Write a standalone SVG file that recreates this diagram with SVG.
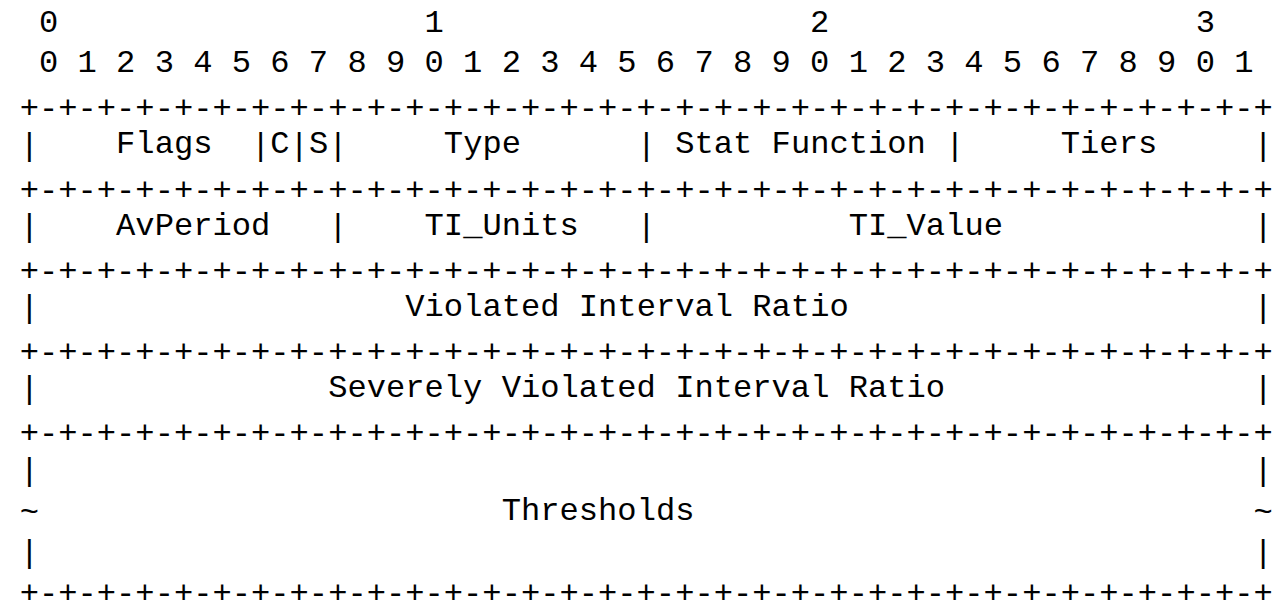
<svg xmlns="http://www.w3.org/2000/svg" width="1284" height="605" viewBox="0 0 1284 605">
<style>
text{font-family:"Liberation Mono","DejaVu Sans Mono",monospace;font-size:32.13px;fill:#000;white-space:pre}
</style>
<rect x="0" y="0" width="1284" height="605" fill="#fff"/>
<g id="bit-ruler">
<text x="19.7" y="32" xml:space="preserve"> 0                   1                   2                   3</text>
<text x="19.7" y="72" xml:space="preserve"> 0 1 2 3 4 5 6 7 8 9 0 1 2 3 4 5 6 7 8 9 0 1 2 3 4 5 6 7 8 9 0 1</text>
</g>
<g id="connectors">
<text x="19.7" y="118">+-+-+-+-+-+-+-+-+-+-+-+-+-+-+-+-+-+-+-+-+-+-+-+-+-+-+-+-+-+-+-+-+</text>
<text x="19.7" y="199.5">+-+-+-+-+-+-+-+-+-+-+-+-+-+-+-+-+-+-+-+-+-+-+-+-+-+-+-+-+-+-+-+-+</text>
<text x="19.7" y="280.5">+-+-+-+-+-+-+-+-+-+-+-+-+-+-+-+-+-+-+-+-+-+-+-+-+-+-+-+-+-+-+-+-+</text>
<text x="19.7" y="361.5">+-+-+-+-+-+-+-+-+-+-+-+-+-+-+-+-+-+-+-+-+-+-+-+-+-+-+-+-+-+-+-+-+</text>
<text x="19.7" y="442.5">+-+-+-+-+-+-+-+-+-+-+-+-+-+-+-+-+-+-+-+-+-+-+-+-+-+-+-+-+-+-+-+-+</text>
<text x="19.7" y="603">+-+-+-+-+-+-+-+-+-+-+-+-+-+-+-+-+-+-+-+-+-+-+-+-+-+-+-+-+-+-+-+-+</text>
<!-- row 3 pipes -->
<text x="19.7" y="155">|</text>
<text x="251.06" y="155">|</text>
<text x="289.62" y="155">|</text>
<text x="328.18" y="155">|</text>
<text x="636.66" y="155">|</text>
<text x="945.14" y="155">|</text>
<text x="1253.62" y="155">|</text>
<!-- row 5 pipes -->
<text x="19.7" y="236">|</text>
<text x="328.18" y="236">|</text>
<text x="636.66" y="236">|</text>
<text x="1253.62" y="236">|</text>
<!-- row 7 -->
<text x="19.7" y="317">|</text>
<text x="1253.62" y="317">|</text>
<!-- row 9 -->
<text x="19.7" y="398">|</text>
<text x="1253.62" y="398">|</text>
<!-- rows 11-13 -->
<text x="19.7" y="480">|</text>
<text x="1253.62" y="480">|</text>
<text x="19.7" y="522">~</text>
<text x="1253.62" y="522">~</text>
<text x="19.7" y="562">|</text>
<text x="1253.62" y="562">|</text>
</g>
<g id="field-flags"><text x="116.1" y="153">Flags</text></g>
<g id="field-c"><text x="270.34" y="153">C</text></g>
<g id="field-s"><text x="308.9" y="153">S</text></g>
<g id="field-type"><text x="443.86" y="153">Type</text></g>
<g id="field-stat-function"><text x="675.22" y="153">Stat Function</text></g>
<g id="field-tiers"><text x="1060.82" y="153">Tiers</text></g>
<g id="field-avperiod"><text x="116.1" y="234.5">AvPeriod</text></g>
<g id="field-ti-units"><text x="424.58" y="234.5">TI_Units</text></g>
<g id="field-ti-value"><text x="848.74" y="234.5">TI_Value</text></g>
<g id="field-violated-interval-ratio"><text x="405.3" y="316">Violated Interval Ratio</text></g>
<g id="field-severely-violated-interval-ratio"><text x="328.18" y="397">Severely Violated Interval Ratio</text></g>
<g id="field-thresholds"><text x="501.7" y="520">Thresholds</text></g>
</svg>
